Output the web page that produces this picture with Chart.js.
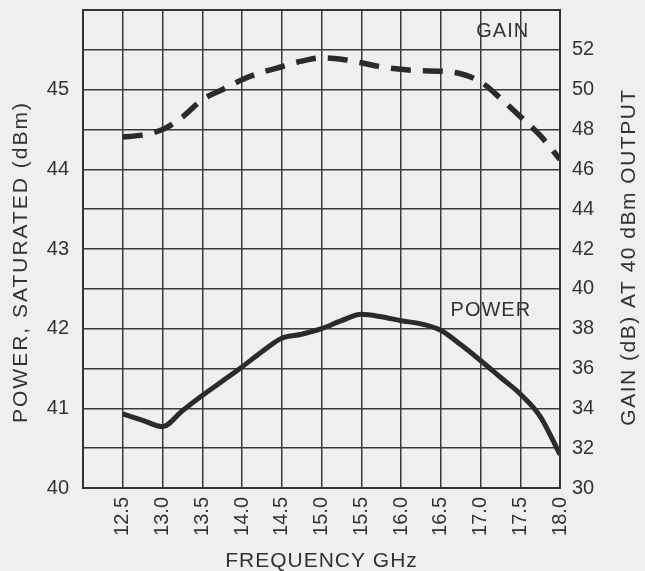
<!DOCTYPE html>
<html>
<head>
<meta charset="utf-8">
<script src="https://cdn.jsdelivr.net/npm/chart.js@4.4.0/dist/chart.umd.min.js"></script>
<style>
  html, body { margin: 0; padding: 0; background: #efefef; }
  #wrap { width: 645px; height: 571px; }
</style>
</head>
<body>
<div id="wrap"><canvas id="c" width="645" height="571"></canvas></div>
<script>
// ---- data ----
const frequency = [12.5, 12.75, 13.0, 13.25, 13.5, 13.75, 14.0, 14.25, 14.5, 14.75, 15.0, 15.25, 15.5, 15.75, 16.0, 16.25, 16.5, 16.75, 17.0, 17.25, 17.5, 17.75, 18.0];
const powerDbm  = [40.93, 40.85, 40.77, 40.97, 41.16, 41.34, 41.52, 41.71, 41.88, 41.93, 42.00, 42.10, 42.18, 42.15, 42.10, 42.06, 41.98, 41.80, 41.60, 41.39, 41.18, 40.90, 40.42];
const gainDb    = [47.62, 47.73, 48.00, 48.62, 49.50, 50.00, 50.50, 50.87, 51.15, 51.43, 51.60, 51.53, 51.35, 51.15, 51.02, 50.95, 50.93, 50.80, 50.40, 49.57, 48.65, 47.70, 46.50];
const xTickLabels     = ['12.5','13.0','13.5','14.0','14.5','15.0','15.5','16.0','16.5','17.0','17.5','18.0'];
const leftTickLabels  = ['40','41','42','43','44','45'];
const rightTickLabels = ['30','32','34','36','38','40','42','44','46','48','50','52'];
const xTitle = 'FREQUENCY GHz';
const leftTitle = 'POWER, SATURATED (dBm)';
const rightTitle = 'GAIN (dB) AT 40 dBm OUTPUT';
const curveLabels = [
  { text: 'GAIN',  x: 17.28, y: 45.73 },
  { text: 'POWER', x: 17.13, y: 42.23 }
];

const INK = '#333333';
const FONT = 'Liberation Sans, Arial, Helvetica, sans-serif';

const powerPts = frequency.map((f, i) => ({ x: f, y: powerDbm[i] }));
const gainPts  = frequency.map((f, i) => ({ x: f, y: gainDb[i] }));

function noPad(s) { s.paddingTop = 0; s.paddingBottom = 0; s.paddingLeft = 0; s.paddingRight = 0; }

const decor = {
  id: 'decor',
  beforeDraw(chart) {
    const ctx = chart.ctx;
    ctx.save();
    ctx.fillStyle = '#efefef';
    ctx.fillRect(0, 0, chart.width, chart.height);
    ctx.restore();
  },
  afterDraw(chart) {
    const ctx = chart.ctx;
    const a = chart.chartArea;
    const xs = chart.scales.x, yl = chart.scales.yL;
    ctx.save();
    ctx.strokeStyle = '#333';
    ctx.lineWidth = 2;
    ctx.strokeRect(a.left, a.top, a.right - a.left, a.bottom - a.top);
    ctx.fillStyle = INK;
    ctx.font = '20px ' + FONT;
    ctx.letterSpacing = '1px';
    ctx.textAlign = 'center';
    ctx.textBaseline = 'middle';
    curveLabels.forEach(l => {
      ctx.fillText(l.text, xs.getPixelForValue(l.x), yl.getPixelForValue(l.y));
    });
    ctx.font = '21px ' + FONT;
    ctx.textBaseline = 'alphabetic';
    ctx.letterSpacing = '1px';
    ctx.fillText(xTitle, (a.left + a.right) / 2, 567);
    ctx.save();
    ctx.letterSpacing = '2px';
    ctx.translate(27, 262);
    ctx.rotate(-Math.PI / 2);
    ctx.fillText(leftTitle, 0, 0);
    ctx.restore();
    ctx.save();
    ctx.letterSpacing = '1.5px';
    ctx.translate(635, 257);
    ctx.rotate(-Math.PI / 2);
    ctx.fillText(rightTitle, 0, 0);
    ctx.restore();
    ctx.restore();
  }
};

new Chart(document.getElementById('c'), {
  type: 'line',
  data: {
    datasets: [
      {
        label: 'POWER',
        data: powerPts,
        yAxisID: 'yL',
        borderColor: '#2b2b2b',
        borderWidth: 5,
        pointRadius: 0,
        tension: 0.4,
        cubicInterpolationMode: 'monotone',
        fill: false
      },
      {
        label: 'GAIN',
        data: gainPts,
        yAxisID: 'yR',
        borderColor: '#2b2b2b',
        borderWidth: 5.5,
        borderDash: [20, 12],
        borderCapStyle: 'butt',
        pointRadius: 0,
        tension: 0.4,
        cubicInterpolationMode: 'monotone',
        fill: false
      }
    ]
  },
  options: {
    responsive: false,
    animation: false,
    events: [],
    layout: { padding: { top: 10, left: 0, right: 0, bottom: 0 } },
    plugins: { legend: { display: false }, tooltip: { enabled: false } },
    scales: {
      x: {
        type: 'linear',
        position: 'bottom',
        min: 12, max: 18,
        afterFit: s => { s.height = 83; noPad(s); },
        ticks: {
          stepSize: 0.5,
          autoSkip: false,
          minRotation: 90, maxRotation: 90,
          padding: 9,
          color: INK,
          font: { family: FONT, size: 20 },
          callback: v => {
            const s = Number(v).toFixed(1);
            return xTickLabels.includes(s) ? s : '';
          }
        },
        grid: { color: '#3a3a3a', lineWidth: 1.5, drawTicks: false },
        border: { display: true, color: '#333', width: 2 }
      },
      yL: {
        type: 'linear',
        position: 'left',
        min: 40, max: 46,
        afterFit: s => { s.width = 83; noPad(s); },
        ticks: {
          stepSize: 0.5,
          autoSkip: false,
          padding: 14,
          color: INK,
          font: { family: FONT, size: 20 },
          callback: v => {
            const s = String(Number(v));
            return leftTickLabels.includes(s) ? s : '';
          }
        },
        grid: { color: '#3a3a3a', lineWidth: 1.5, drawTicks: false },
        border: { display: true, color: '#333', width: 2 }
      },
      yR: {
        type: 'linear',
        position: 'right',
        min: 30, max: 54,
        afterFit: s => { s.width = 85; noPad(s); },
        ticks: {
          stepSize: 2,
          autoSkip: false,
          padding: 12,
          color: INK,
          font: { family: FONT, size: 20 },
          callback: v => {
            const s = String(Number(v));
            return rightTickLabels.includes(s) ? s : '';
          }
        },
        grid: { drawOnChartArea: false, drawTicks: false },
        border: { display: true, color: '#333', width: 2 }
      }
    }
  },
  plugins: [decor]
});
</script>
</body>
</html>
